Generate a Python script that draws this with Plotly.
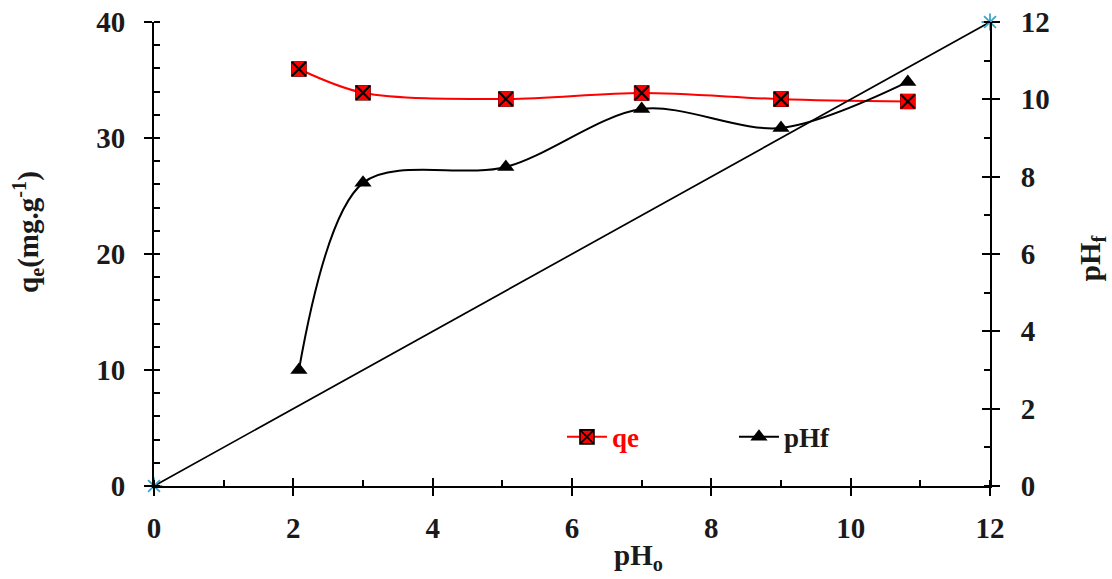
import plotly.graph_objects as go

# Initial pH (pHo) and measured results
ph_initial = [2.08, 3.0, 5.05, 7.0, 9.0, 10.82]
qe_values = [35.95, 33.9, 33.36, 33.88, 33.35, 33.15]
ph_final = [3.0, 7.84, 8.25, 9.75, 9.26, 10.45]

# Reference line pHf = pHo
ref_x = [0, 12]
ref_y = [0, 12]

FONT = "Liberation Serif, Times New Roman, serif"
AXIS_COLOR = "#000000"
TEXT_COLOR = "#1a1a1a"
RED = "#ff0000"

fig = go.Figure()

fig.add_trace(go.Scatter(
    x=ref_x, y=ref_y, yaxis="y2", mode="lines+markers",
    line=dict(color="black", width=1.7),
    marker=dict(symbol="asterisk-open", size=14, color="#3fa6c9",
                line=dict(color="#3fa6c9", width=1.8)),
    cliponaxis=False, showlegend=False, hoverinfo="skip",
))

# qe series: line + legend symbol
fig.add_trace(go.Scatter(
    x=ph_initial, y=qe_values, mode="lines+markers",
    name=f"<span style='color:{RED}'>qe</span>",
    line=dict(color=RED, width=2, shape="spline", smoothing=0.9),
    marker=dict(symbol="square-x", size=14, color=RED,
                line=dict(color="black", width=1.6)),
    cliponaxis=False,
))
# plain red squares with a black cross on top
fig.add_trace(go.Scatter(
    x=ph_initial, y=qe_values, mode="markers",
    marker=dict(symbol="square", size=15, color=RED, line=dict(width=0)),
    cliponaxis=False, showlegend=False, hoverinfo="skip",
))
fig.add_trace(go.Scatter(
    x=ph_initial, y=qe_values, mode="markers",
    marker=dict(symbol="x-thin-open", size=14, color="black",
                line=dict(color="black", width=2.2)),
    cliponaxis=False, showlegend=False, hoverinfo="skip",
))

fig.add_trace(go.Scatter(
    x=ph_initial, y=ph_final, yaxis="y2", mode="lines+markers",
    name=f"<span style='color:{TEXT_COLOR}'>pHf</span>",
    line=dict(color="black", width=2, shape="spline", smoothing=0.9),
    marker=dict(symbol="triangle-up", size=15, color="black"),
    cliponaxis=False,
))

# Invisible traces so the overlay tick axes get drawn
fig.add_trace(go.Scatter(x=[None], y=[None], xaxis="x3", yaxis="y",
                         showlegend=False, hoverinfo="skip"))
fig.add_trace(go.Scatter(x=[None], y=[None], xaxis="x", yaxis="y3",
                         showlegend=False, hoverinfo="skip"))

tick_font = dict(family=FONT, size=29, color=TEXT_COLOR, weight="bold")
title_font = dict(family=FONT, size=29, color=TEXT_COLOR, weight="bold")

fig.update_layout(
    width=1112, height=579,
    margin=dict(l=154, r=122, t=22, b=93),
    paper_bgcolor="white", plot_bgcolor="white",
    font=dict(family=FONT, color=TEXT_COLOR),
    xaxis=dict(
        range=[0, 12], dtick=2, tick0=0, showgrid=False, zeroline=False,
        showline=True, linecolor=AXIS_COLOR, linewidth=2, automargin=False,
        ticks="outside", ticklen=8, tickwidth=1.5, tickcolor=AXIS_COLOR,
        minor=dict(dtick=1, ticks="inside", ticklen=6, tickwidth=1.5,
                   tickcolor=AXIS_COLOR, showgrid=False),
        tickfont=tick_font, ticklabelstandoff=7,
    ),
    xaxis3=dict(
        range=[0, 12], dtick=2, tick0=0, overlaying="x", anchor="y",
        side="bottom", showgrid=False, zeroline=False, showline=False,
        automargin=False,
        ticks="inside", ticklen=8, tickwidth=1.5, tickcolor=AXIS_COLOR,
        showticklabels=False,
    ),
    yaxis=dict(
        range=[0, 40], dtick=10, tick0=0, showgrid=False, zeroline=False,
        showline=True, linecolor=AXIS_COLOR, linewidth=2, automargin=False,
        ticks="outside", ticklen=8, tickwidth=1.5, tickcolor=AXIS_COLOR,
        minor=dict(dtick=2, ticks="inside", ticklen=6, tickwidth=1.5,
                   tickcolor=AXIS_COLOR, showgrid=False),
        tickfont=tick_font, ticklabelstandoff=13,
    ),
    yaxis2=dict(
        range=[0, 12], dtick=2, tick0=0, overlaying="y", side="right",
        anchor="x", showgrid=False, zeroline=False, automargin=False,
        showline=True, linecolor=AXIS_COLOR, linewidth=2,
        ticks="outside", ticklen=8, tickwidth=1.5, tickcolor=AXIS_COLOR,
        minor=dict(dtick=1, ticks="inside", ticklen=6, tickwidth=1.5,
                   tickcolor=AXIS_COLOR, showgrid=False),
        tickfont=tick_font, ticklabelstandoff=15,
    ),
    yaxis3=dict(
        range=[0, 12], dtick=2, tick0=0, overlaying="y", side="right",
        anchor="x", showgrid=False, zeroline=False, showline=False,
        automargin=False,
        ticks="inside", ticklen=8, tickwidth=1.5, tickcolor=AXIS_COLOR,
        showticklabels=False,
    ),
    legend=dict(
        orientation="h", x=0.488, y=0.105, xanchor="left", yanchor="middle",
        bgcolor="rgba(0,0,0,0)",
        font=dict(family=FONT, size=27, weight="bold"),
        entrywidth=117, entrywidthmode="pixels", itemwidth=40,
        traceorder="normal",
    ),
)

# Axis titles
fig.add_annotation(text="q<sub>e</sub>(mg.g<sup>-1</sup>)", textangle=-90,
                   xref="paper", yref="paper", x=-0.151, y=0.547,
                   xanchor="center", yanchor="middle", showarrow=False,
                   font=title_font)
fig.add_annotation(text="pH<sub>f</sub>", textangle=-90,
                   xref="paper", yref="paper", x=1.122, y=0.491,
                   xanchor="center", yanchor="middle", showarrow=False,
                   font=title_font)
fig.add_annotation(text="pH<sub>o</sub>",
                   xref="paper", yref="paper", x=0.58, y=-0.196,
                   xanchor="center", yanchor="bottom", showarrow=False,
                   font=title_font)

fig.write_html("out.html")
